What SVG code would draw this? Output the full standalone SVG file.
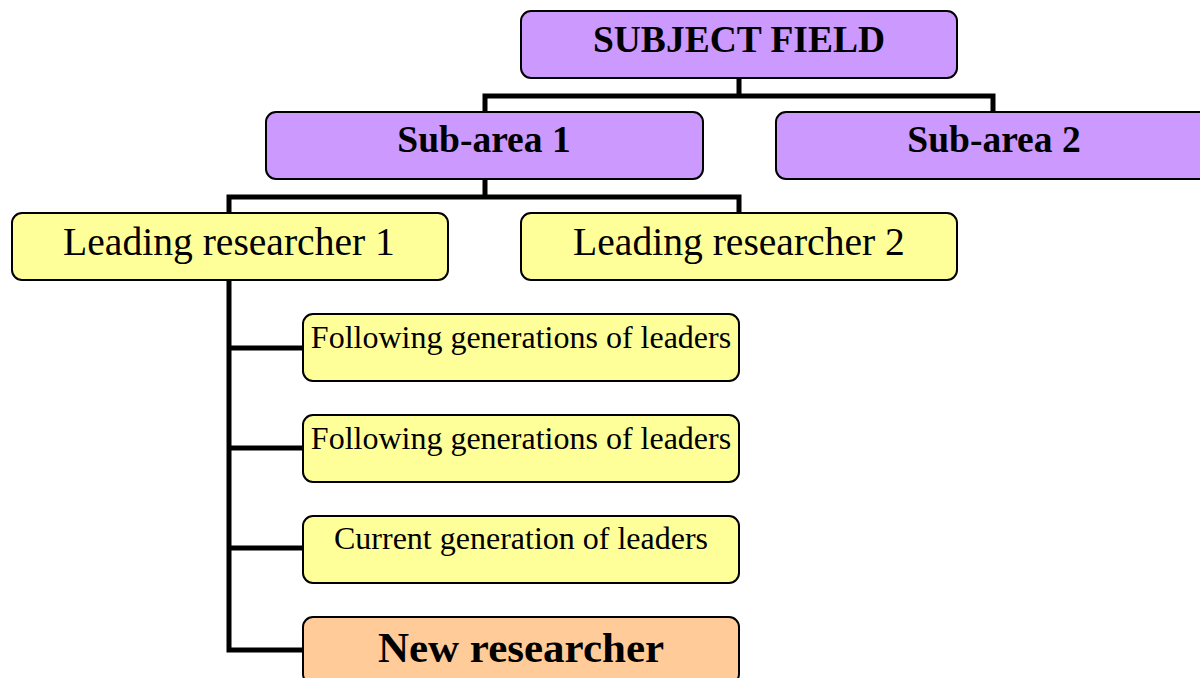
<svg xmlns="http://www.w3.org/2000/svg" width="1200" height="678" viewBox="0 0 1200 678">
<style>
.box{stroke:#000;stroke-width:2}
.p{fill:#CC99FF}
.y{fill:#FFFF99}
.o{fill:#FFCC99}
text{font-family:"Liberation Serif","Times New Roman",serif;fill:#000;text-anchor:middle}
.b{font-weight:bold}
.c{fill:none;stroke:#000;stroke-width:5}
</style>
<rect width="1200" height="678" fill="#fff"/>
<g id="connectors">
<path class="c" d="M739 78V96M485 112V96H993V112"/>
<path class="c" d="M485 179V197M229 213V197H739V213"/>
<path class="c" d="M229 280V650H303M229 348H303M229 448H303M229 548H303"/>
</g>
<g id="subject-field"><rect class="box p" x="521" y="11" width="436" height="67" rx="10"/><text class="b" x="739" y="52" font-size="37.5">SUBJECT FIELD</text></g>
<g id="sub-area-1"><rect class="box p" x="266" y="112" width="437" height="67" rx="10"/><text class="b" x="484" y="152" font-size="37.5">Sub-area 1</text></g>
<g id="sub-area-2"><rect class="box p" x="776" y="112" width="437" height="67" rx="10"/><text class="b" x="994" y="152" font-size="37.5">Sub-area 2</text></g>
<g id="leading-1"><rect class="box y" x="12" y="213" width="436" height="67" rx="10"/><text x="229" y="255" font-size="39.6">Leading researcher 1</text></g>
<g id="leading-2"><rect class="box y" x="521" y="213" width="436" height="67" rx="10"/><text x="739" y="255" font-size="39.6">Leading researcher 2</text></g>
<g id="following-1"><rect class="box y" x="303" y="314" width="436" height="67" rx="10"/><text x="521" y="348" font-size="32">Following generations of leaders</text></g>
<g id="following-2"><rect class="box y" x="303" y="415" width="436" height="67" rx="10"/><text x="521" y="449" font-size="32">Following generations of leaders</text></g>
<g id="current"><rect class="box y" x="303" y="516" width="436" height="67" rx="10"/><text x="521" y="549" font-size="32">Current generation of leaders</text></g>
<g id="new-researcher"><rect class="box o" x="303" y="617" width="436" height="67" rx="10"/><text class="b" x="521" y="662" font-size="43">New researcher</text></g>
</svg>
